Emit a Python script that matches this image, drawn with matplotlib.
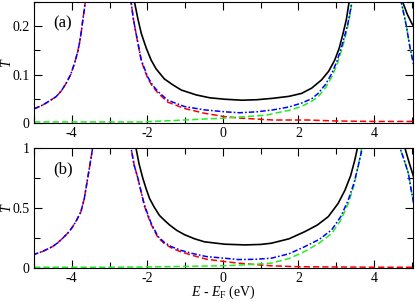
import numpy as np
import matplotlib
matplotlib.use("Agg")
import matplotlib.pyplot as plt
from matplotlib.ticker import MultipleLocator

# ---------------------------------------------------------------------
# STYLE
# ---------------------------------------------------------------------
plt.rcParams["font.family"] = ["Liberation Serif", "DejaVu Serif"]
plt.rcParams["mathtext.fontset"] = "custom"
plt.rcParams["mathtext.rm"] = "Liberation Serif"
plt.rcParams["mathtext.it"] = "Liberation Serif:italic"
plt.rcParams["axes.unicode_minus"] = False
plt.rcParams["lines.scale_dashes"] = False

nan = np.nan

# ---------------------------------------------------------------------
# DATA  (NaN separates resonance branches)
# ---------------------------------------------------------------------
# panel (a)
a_black_x = [-2.37, -2.34, -2.25, -2.16, -2.03, -1.90, -1.77, -1.55, -1.33, -1.10, -0.71, -0.35,
             0.05, 0.5, 0.9, 1.33, 1.75, 2.08, 2.35, 2.61, 2.80, 2.96, 3.08, 3.18, 3.27, 3.34, 3.40,
             nan, 4.73, 4.76, 4.88, 5.0, 5.05]
a_black_y = [0.28, 0.25, 0.215, 0.185, 0.155, 0.130, 0.112, 0.091, 0.079, 0.068, 0.058, 0.052,
             0.049, 0.047, 0.048, 0.051, 0.055, 0.061, 0.072, 0.089, 0.107, 0.130, 0.155, 0.185, 0.215, 0.25, 0.29,
             nan, 0.27, 0.25, 0.225, 0.206, 0.20]

a_blue_x = [-5.0, -4.77, -4.6, -4.42, -4.28, -4.15, -4.03, -3.93, -3.85, -3.80, -3.75, -3.71, -3.66, -3.62,
            nan, -2.46, -2.43, -2.37, -2.30, -2.16, -1.99, -1.86, -1.72, -1.46, -1.02, -0.49, 0.05, 0.44,
            0.9, 1.33, 1.75, 2.08, 2.35, 2.52, 2.72, 2.88, 3.02, 3.14, 3.24, 3.32, 3.39, 3.44, 3.48,
            nan, 4.68, 4.72, 4.79, 4.86, 4.95, 5.05]
a_blue_y = [0.029, 0.037, 0.045, 0.054, 0.066, 0.082, 0.100, 0.123, 0.145, 0.164, 0.188, 0.212, 0.24, 0.27,
            nan, 0.30, 0.25, 0.215, 0.185, 0.130, 0.095, 0.078, 0.065, 0.047, 0.034, 0.027, 0.023, 0.021,
            0.023, 0.027, 0.033, 0.041, 0.050, 0.061, 0.080, 0.102, 0.128, 0.157, 0.185, 0.210, 0.24, 0.27, 0.30,
            nan, 0.30, 0.25, 0.225, 0.199, 0.157, 0.12]

a_red_x = [-5.0, -4.77, -4.6, -4.42, -4.28, -4.15, -4.03, -3.93, -3.85, -3.80, -3.75, -3.71, -3.66, -3.62,
           nan, -2.46, -2.43, -2.37, -2.30, -2.16, -1.99, -1.86, -1.72, -1.46, -1.02, -0.49, 0.05, 0.44,
           1.33, 2.25, 3.0, 4.0, 5.05]
a_red_y = [0.029, 0.037, 0.045, 0.054, 0.066, 0.082, 0.100, 0.123, 0.145, 0.164, 0.188, 0.212, 0.24, 0.27,
           nan, 0.30, 0.25, 0.215, 0.185, 0.128, 0.092, 0.075, 0.062, 0.043, 0.030, 0.020, 0.013, 0.010,
           0.006, 0.006, 0.004, 0.003, 0.003]

a_green_x = [-5.0, -4.0, -3.0, -2.2, -1.28, -0.5, 0.05, 0.6, 1.15, 1.37, 1.75, 2.08, 2.35, 2.52, 2.72,
             2.88, 3.02, 3.14, 3.24, 3.32, 3.39, 3.44, 3.48,
             nan, 4.68, 4.72, 4.79, 4.86, 4.95, 5.05]
a_green_y = [0.002, 0.002, 0.002, 0.002, 0.005, 0.008, 0.010, 0.013, 0.016, 0.020, 0.026, 0.034, 0.045, 0.054, 0.073,
             0.095, 0.120, 0.150, 0.178, 0.205, 0.235, 0.27, 0.30,
             nan, 0.30, 0.25, 0.225, 0.199, 0.157, 0.12]

# panel (b)
b_black_x = [-2.33, -2.30, -2.22, -2.12, -2.03, -1.94, -1.82, -1.68, -1.55, -1.41, -1.22, -1.02, -0.75, -0.49, 0.05,
             0.58, 1.0, 1.28, 1.75, 2.17, 2.5, 2.79, 3.05, 3.23, 3.38, 3.49, 3.56, 3.60,
             nan, 4.80, 4.82, 4.93, 5.05]
b_black_y = [1.06, 1.0, 0.87, 0.75, 0.66, 0.58, 0.51, 0.44, 0.40, 0.36, 0.315, 0.28, 0.245, 0.22, 0.20,
             0.194, 0.198, 0.208, 0.245, 0.305, 0.36, 0.43, 0.54, 0.65, 0.77, 0.90, 1.0, 1.06,
             nan, 1.05, 1.0, 0.88, 0.76]

b_blue_x = [-5.04, -4.77, -4.51, -4.38, -4.24, -4.07, -3.98, -3.89, -3.76, -3.67, -3.58, -3.49, -3.45, -3.42,
            nan, -2.45, -2.43, -2.35, -2.25, -2.16, -2.08, -1.99, -1.90, -1.72, -1.55, -1.37, -1.1, -0.84,
            -0.44, 0.05, 0.40, 0.85, 1.28, 1.75, 2.17, 2.55, 2.88, 3.12, 3.32, 3.47, 3.58, 3.66, 3.71,
            nan, 4.66, 4.69, 4.80, 4.91, 4.98, 5.05]
b_blue_y = [0.11, 0.14, 0.18, 0.21, 0.25, 0.305, 0.345, 0.39, 0.47, 0.58, 0.75, 0.92, 1.0, 1.06,
            nan, 1.05, 1.0, 0.86, 0.75, 0.63, 0.53, 0.45, 0.375, 0.265, 0.215, 0.18, 0.148, 0.125,
            0.097, 0.083, 0.072, 0.074, 0.083, 0.12, 0.18, 0.24, 0.32, 0.43, 0.57, 0.71, 0.85, 0.96, 1.05,
            nan, 1.05, 1.0, 0.90, 0.79, 0.66, 0.54]

b_red_x = [-5.04, -4.77, -4.51, -4.38, -4.24, -4.07, -3.98, -3.89, -3.76, -3.67, -3.58, -3.49, -3.45, -3.42,
           nan, -2.45, -2.43, -2.35, -2.25, -2.16, -2.08, -1.99, -1.90, -1.72, -1.55, -1.37, -1.1, -0.84,
           -0.44, 0.05, 0.40, 0.85, 1.28, 2.0, 3.0, 4.0, 5.05]
b_red_y = [0.11, 0.14, 0.18, 0.21, 0.25, 0.305, 0.345, 0.39, 0.47, 0.58, 0.75, 0.92, 1.0, 1.06,
           nan, 1.05, 1.0, 0.86, 0.75, 0.63, 0.52, 0.44, 0.365, 0.255, 0.205, 0.17, 0.135, 0.11,
           0.075, 0.055, 0.042, 0.030, 0.020, 0.012, 0.010, 0.008, 0.008]

b_green_x = [-5.0, -4.0, -3.0, -2.2, -1.0, 0.0, 0.40, 0.85, 1.28, 1.75, 2.17, 2.55, 2.88, 3.12,
             3.32, 3.47, 3.58, 3.65, 3.70,
             nan, 4.66, 4.69, 4.80, 4.91, 4.98, 5.05]
b_green_y = [0.008, 0.008, 0.008, 0.010, 0.015, 0.020, 0.025, 0.033, 0.042, 0.08, 0.14, 0.21, 0.29, 0.40,
             0.54, 0.69, 0.85, 0.96, 1.05,
             nan, 1.05, 1.0, 0.90, 0.79, 0.66, 0.54]

panels = [
    ("(a)", a_black_x, a_black_y, a_red_x, a_red_y, a_green_x, a_green_y, a_blue_x, a_blue_y,
     0.25, [0, 0.1, 0.2], 0.05, ["0", "0.1", "0.2"]),
    ("(b)", b_black_x, b_black_y, b_red_x, b_red_y, b_green_x, b_green_y, b_blue_x, b_blue_y,
     1.0, [0, 0.5, 1.0], 0.25, ["0", "0.5", "1"]),
]

# ---------------------------------------------------------------------
# PLOT
# ---------------------------------------------------------------------
fig = plt.figure(figsize=(4.15, 3.02), dpi=100)
boxes = [[0.082, 0.593, 0.913, 0.400], [0.082, 0.112, 0.913, 0.397]]

for box, (tag, kx, ky, rx, ry, gx, gy, bx, by, ytop, yt, ymin, ylabs) in zip(boxes, panels):
    ax = fig.add_axes(box)
    ax.plot(kx, ky, color="black", lw=1.2)
    ax.plot(rx, ry, color="#ff0000", lw=1.1, dashes=(4.5, 2.2))
    ax.plot(gx, gy, color="#22ee22", lw=1.1, dashes=(4.5, 2.2))
    ax.plot(bx, by, color="#0000ff", lw=1.1, dashes=(4.0, 1.5, 1.2, 1.5))

    ax.set_xlim(-5, 5.03)
    ax.set_ylim(0, ytop)
    ax.xaxis.set_major_locator(MultipleLocator(2))
    ax.xaxis.set_minor_locator(MultipleLocator(1))
    ax.set_yticks(yt)
    ax.set_yticklabels(ylabs)
    ax.yaxis.set_minor_locator(MultipleLocator(ymin))
    ax.tick_params(which="both", direction="in", top=True, right=True, labelsize=10, pad=3)
    ax.tick_params(which="major", length=6, width=0.8)
    ax.tick_params(which="minor", length=4, width=0.8)
    ax.set_ylabel(r"$T$", fontsize=10)
    ax.yaxis.set_label_coords(-0.053, 0.5)
    ax.text(0.05, 0.79, tag, transform=ax.transAxes, fontsize=12)

ax.set_xlabel(r"$E$ - $E_{\rm F}$ (eV)", fontsize=10, labelpad=-1)

fig.savefig("out.png", dpi=100)
